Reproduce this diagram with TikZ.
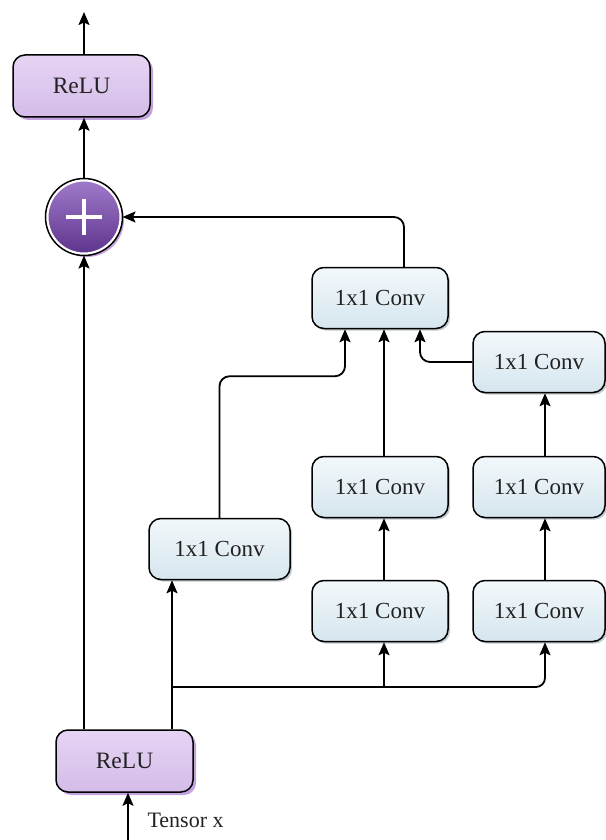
\documentclass[tikz,border=0pt]{standalone}
\usepackage{fontspec}
\setmainfont{Liberation Serif}
\usetikzlibrary{arrows.meta,shadows}
\definecolor{reluTop}{HTML}{E6D4F4}
\definecolor{reluBot}{HTML}{D4BCE8}
\definecolor{reluShadow}{HTML}{C4A2E0}
\definecolor{convTop}{HTML}{F2F8FB}
\definecolor{convBot}{HTML}{D6E6EE}
\definecolor{convShadow}{HTML}{9AA8B0}
\definecolor{plusTop}{HTML}{A07ACB}
\definecolor{plusBot}{HTML}{5E348C}
\definecolor{txt}{HTML}{222222}
\tikzset{
  relubox/.style={draw=black, line width=1.5pt, rounded corners=12pt,
    minimum width=137pt, minimum height=62pt, top color=reluTop, bottom color=reluBot,
    drop shadow={shadow xshift=3pt, shadow yshift=-3pt, fill=reluShadow, opacity=1},
    font=\fontsize{23.5}{26}\selectfont, text=txt},
  convbox/.style={draw=black, line width=1.5pt, rounded corners=12pt,
    minimum width=136pt, minimum height=61pt, top color=convTop, bottom color=convBot,
    drop shadow={shadow xshift=2pt, shadow yshift=-2pt, fill=convShadow, opacity=0.6},
    font=\fontsize{23}{26}\selectfont, text=txt},
  arr/.style={line width=1.8pt, -{Stealth[length=13pt,width=11pt,inset=2.5pt]}},
}
\begin{document}
\begin{tikzpicture}[x=1pt,y=-1pt]
\useasboundingbox[fill=white] (0,0) rectangle (605,840);

% nodes
\node[relubox] (relutop) at (81.5,86) {ReLU};
\node[circle, minimum size=74pt, draw=white, line width=3pt, top color=plusTop, bottom color=plusBot,
  drop shadow={shadow xshift=3pt, shadow yshift=-3pt, fill=reluShadow, opacity=1}] (plus) at (84,217) {};
\draw[line width=1.5pt] (plus.center) circle[radius=38.5pt];
\draw[white, line width=3.5pt] ([xshift=-18pt]plus.center) -- ([xshift=18pt]plus.center)
  ([yshift=-18pt]plus.center) -- ([yshift=18pt]plus.center);

\node[convbox] (conv1) at (380,298) {1x1 Conv};
\node[convbox, minimum width=132pt] (conv2) at (539,362) {1x1 Conv};
\node[convbox] (conv3) at (380,487) {1x1 Conv};
\node[convbox, minimum width=132pt] (conv4) at (539,487) {1x1 Conv};
\node[convbox, minimum width=141pt] (conv5) at (219.5,549) {1x1 Conv};
\node[convbox] (conv6) at (380,611) {1x1 Conv};
\node[convbox, minimum width=132pt] (conv7) at (539,611) {1x1 Conv};
\node[relubox] (relubot) at (124.5,761) {ReLU};
\node[font=\fontsize{22}{24}\selectfont, text=txt, anchor=west] (tlabel) at (144,820) {Tensor x};

\coordinate (in) at (128,840);
\coordinate (outtop) at (84,12);
\coordinate (j) at (172,687);

% connectors
\draw[arr] (relutop.north -| outtop) -- (outtop);
\draw[arr] (plus.north) -- (plus |- relutop.south);
\draw[arr] (relubot.north -| plus) -- (plus.south);
\draw[arr] (in) -- (in |- relubot.south);
\draw[arr] (relubot.north -| j) -- (j |- conv5.south);
\draw[arr] (j) -| ([xshift=4pt]conv6.south);
\draw[arr, rounded corners=9pt] (j) -| ([xshift=6pt]conv7.south);
\draw[arr] ([xshift=4pt]conv6.north) -- ([xshift=4pt]conv3.south);
\draw[arr] ([xshift=4pt]conv3.north) -- ([xshift=4pt]conv1.south);
\draw[arr] ([xshift=6pt]conv7.north) -- ([xshift=6pt]conv4.south);
\draw[arr] ([xshift=6pt]conv4.north) -- ([xshift=6pt]conv2.south);
\draw[arr, rounded corners=10pt] (conv5.north) |- ([xshift=-35pt,yshift=-47pt]conv1.south) -- ([xshift=-35pt]conv1.south);
\draw[arr, rounded corners=10pt] (conv2.west) -| ([xshift=40pt]conv1.south);
\draw[arr, rounded corners=10pt] ([xshift=24pt]conv1.north) |- (plus.east);
\end{tikzpicture}
\end{document}
